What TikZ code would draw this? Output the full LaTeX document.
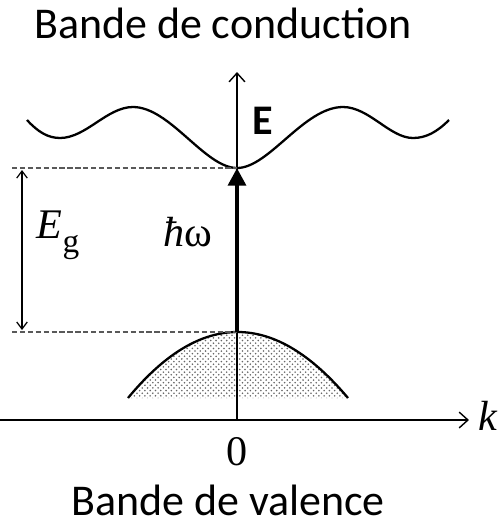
\documentclass[tikz,border=0pt]{standalone}
\usepackage{fontspec}
\setmainfont{Carlito}
\newfontfamily\tms{Liberation Serif}
\usetikzlibrary{arrows.meta,patterns}
\begin{document}
\begin{tikzpicture}[x=0.02cm,y=-0.02cm,
  axis/.style={line width=0.8pt,-{Straight Barb[length=5pt,width=9pt,line width=0.8pt]}},
  band/.style={line width=1.3pt},
  guide/.style={line width=0.7pt,dashed,dash pattern=on 3pt off 1.5pt,gray!70!black},
  gap/.style={line width=0.7pt,{Straight Barb[length=4pt,width=6pt]}-{Straight Barb[length=4pt,width=6pt]}},
  photon/.style={line width=2.4pt,-{Triangle[length=10pt,width=10pt]}},
  title/.style={font=\fontsize{25}{29}\selectfont,anchor=base,inner sep=0pt},
  sym/.style={font=\tms\fontsize{24}{28}\selectfont}]
\useasboundingbox (0,0) rectangle (501,525);
% coordinates
\coordinate (O) at (237,420);
\coordinate (ytop) at (237,72);
\coordinate (xleft) at (0,420);
\coordinate (xright) at (469,420);
\coordinate (cmin) at (237,168);
\coordinate (vmax) at (237,332);
\coordinate (dl1) at (12,168);
\coordinate (dl2) at (12,332);
\coordinate (ga) at (22,170);
\coordinate (gb) at (22,330);
% valence band fill
\fill[pattern=crosshatch dots,pattern color=gray!80!black] (128,398) .. controls (200.7,310) and (274,310) .. (348,398) -- cycle;
% axes
\draw[axis] (xleft) -- (xright);
\draw[axis] (O) -- (ytop);
% conduction band
\draw[band] (27,120) .. controls (38,132) and (48,138) .. (60,138)
  .. controls (86,138) and (107,107) .. (133,107)
  .. controls (170,107) and (205,168) .. (cmin)
  .. controls (269,168) and (304,107) .. (343,107)
  .. controls (369,107) and (390,138) .. (413,138)
  .. controls (426,138) and (437,132) .. (449,120);
% valence band
\draw[band] (128,398) .. controls (200.7,310) and (274,310) .. (348,398);
% guides
\draw[guide] (dl1) -- (cmin);
\draw[guide] (dl2) -- (vmax);
\draw[gap] (ga) -- (gb);
\draw[photon] (vmax) -- (cmin);
% labels
\node[title] (tc) at (223,38) {Bande de conduction};
\node[title] (tv) at (228,515) {Bande de valence};
\node[font=\bfseries\fontsize{24}{28}\selectfont] (E) at (263,121) {E};
\node[sym,anchor=base] (eg) at (58,238) {\itshape E\upshape\raisebox{-8pt}{\fontsize{19}{22}\selectfont g}};
\node[sym,anchor=base] (hw) at (188,246) {\itshape ħ\upshape ω};
\node[sym,anchor=base] (zero) at (237,465) {0};
\node[sym,anchor=base] (k) at (488,430) {\itshape k};
\end{tikzpicture}
\end{document}
